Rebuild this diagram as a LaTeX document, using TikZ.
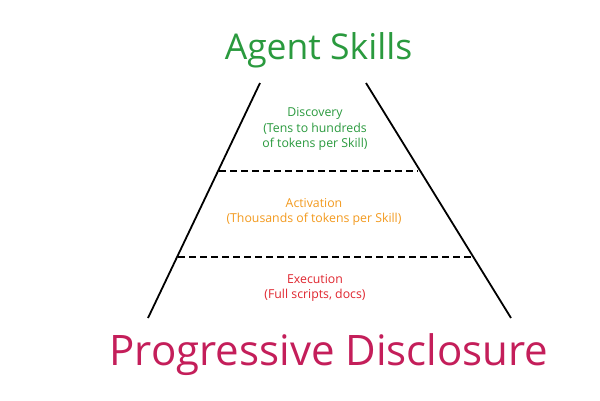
\documentclass[tikz,border=0pt]{standalone}
\usepackage{fontspec}
\setmainfont{Open Sans}
\definecolor{cgreen}{HTML}{2A9A3E}
\definecolor{corange}{HTML}{F39A1E}
\definecolor{cred}{HTML}{E0262F}
\definecolor{cmag}{HTML}{C41E5A}
\begin{document}
\begin{tikzpicture}[x=1pt,y=-1pt,
  side/.style={line width=1.8pt,black},
  level/.style={line width=1.8pt,black,dash pattern=on 7pt off 4pt},
  small/.style={font=\fontsize{12.3}{15}\selectfont,align=center,anchor=base,inner sep=0pt},
  big/.style={anchor=base,inner sep=0pt}]
\useasboundingbox[fill=white] (0,0) rectangle (600,400);
\coordinate (lt) at (260,83);
\coordinate (lb) at (148,318);
\coordinate (rt) at (366,83);
\coordinate (rb) at (511,318);
\draw[side] (lt) -- (lb);
\draw[side] (rt) -- (rb);
\coordinate (d1l) at (219,171);
\coordinate (d1r) at (418,171);
\coordinate (d2l) at (178,257);
\coordinate (d2r) at (471,257);
\draw[level] (d1l) -- (d1r);
\draw[level] (d2l) -- (d2r);
\node[big,text=cgreen,font=\fontsize{35.5}{40}\selectfont] (title) at (318.5,59) {Agent Skills};
\node[big,text=cmag,font=\fontsize{42}{48}\selectfont] (bottom) at (329,365) {Progressive Disclosure};
\node[small,text=cgreen] (disc1) at (315,116.7) {Discovery};
\node[small,text=cgreen] (disc2) at (315,132) {(Tens to hundreds};
\node[small,text=cgreen] (disc3) at (315,147.3) {of tokens per Skill)};
\node[small,text=corange] (act1) at (314,207) {Activation};
\node[small,text=corange] (act2) at (314,222.7) {(Thousands of tokens per Skill)};
\node[small,text=cred] (exe1) at (315,283) {Execution};
\node[small,text=cred] (exe2) at (315,298.5) {(Full scripts, docs)};
\end{tikzpicture}
\end{document}
